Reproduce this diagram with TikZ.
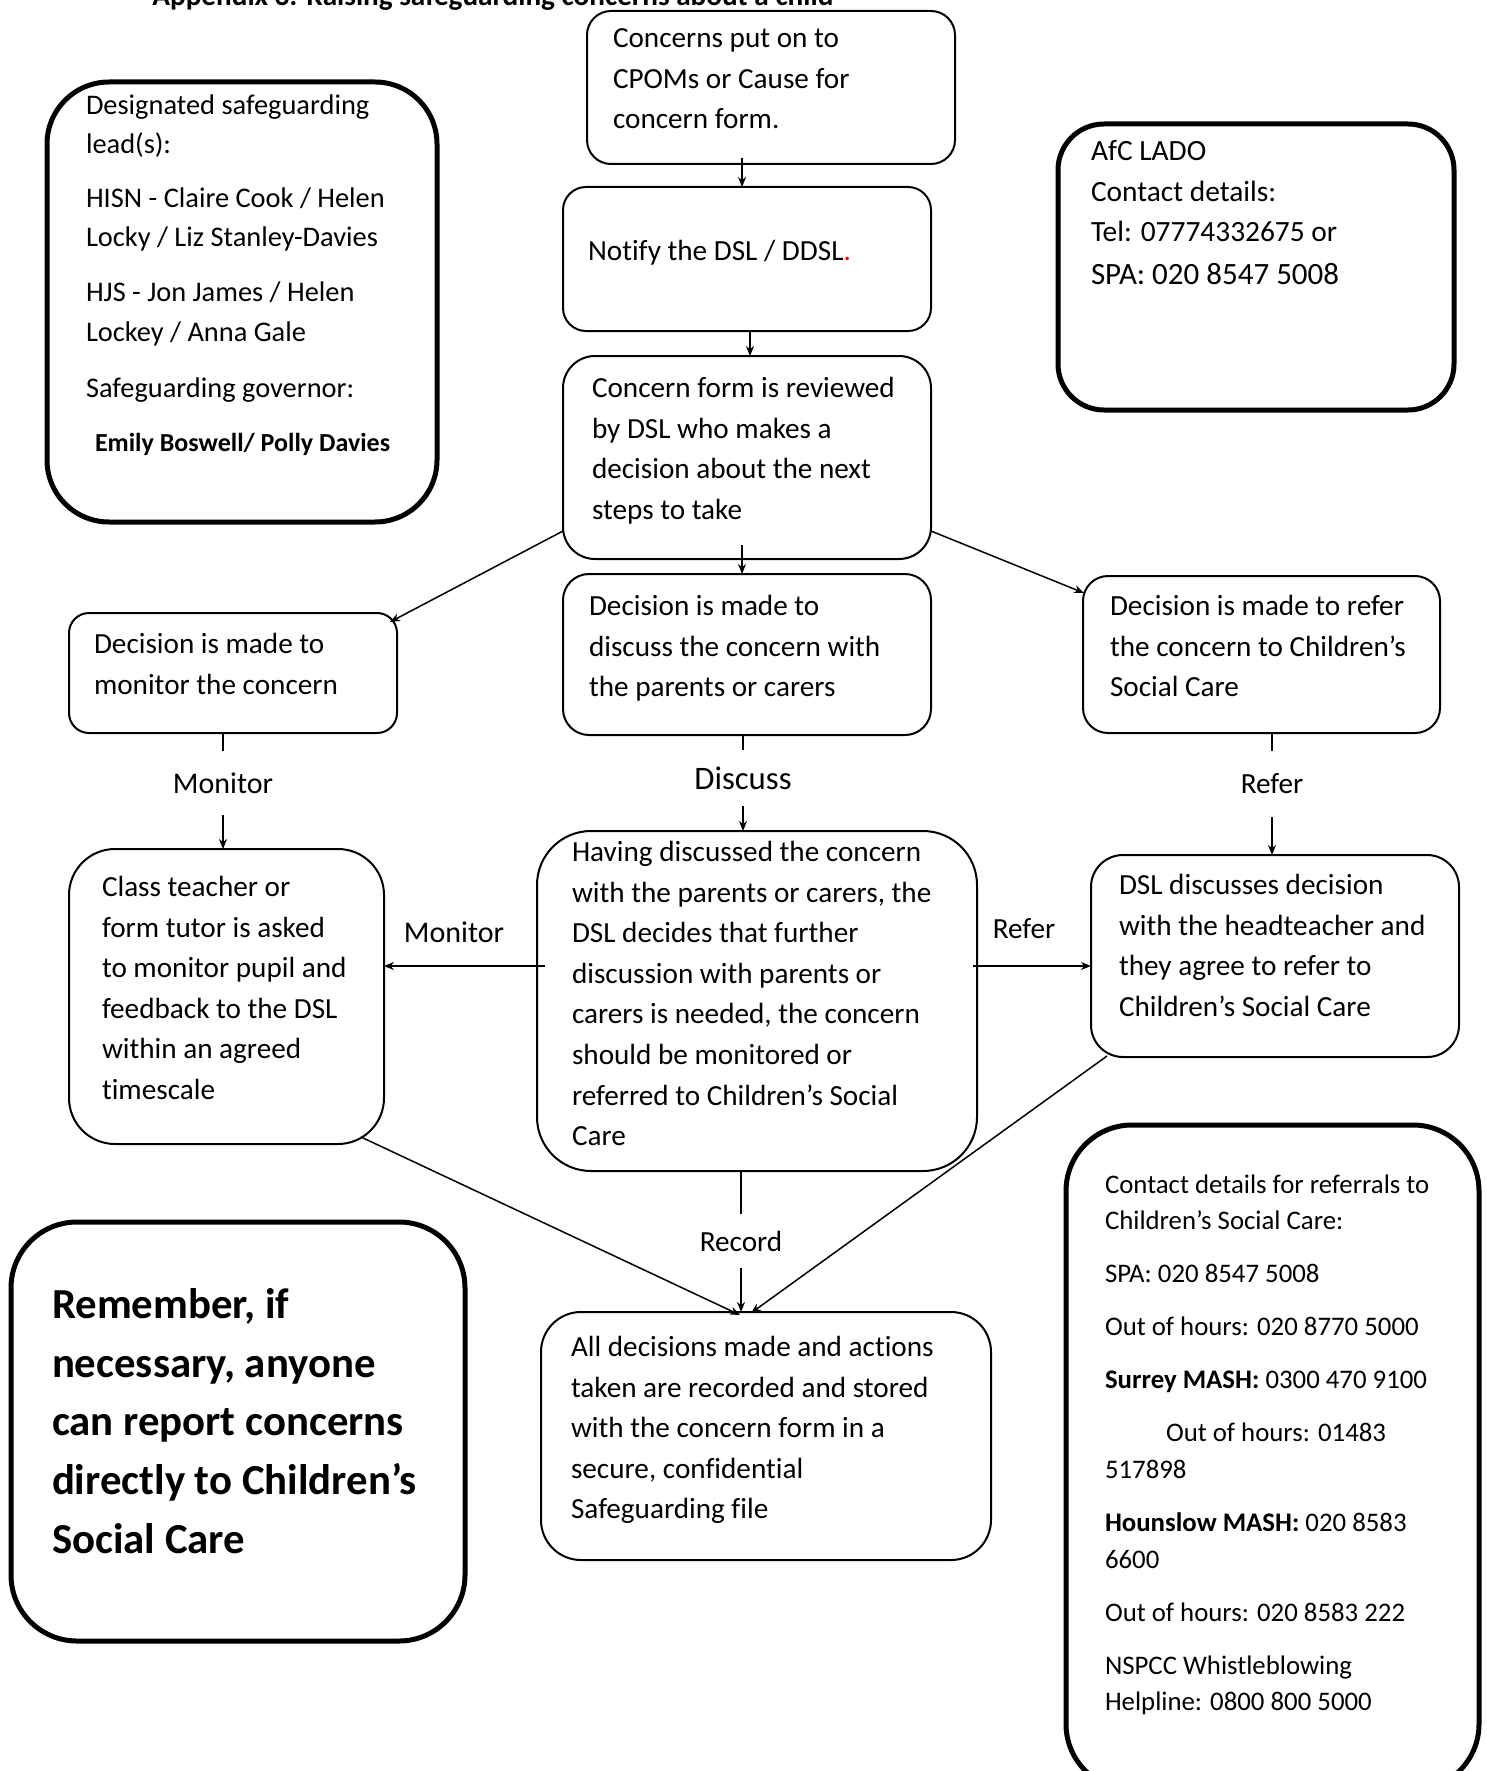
\documentclass[tikz,border=0pt]{standalone}
\usepackage{fontspec}
\setmainfont{Carlito}[Ligatures=NoCommon]
\usetikzlibrary{calc,arrows.meta}
\newdimen\pxu \pxu=0.5pt
% #1 width px, #2 height px, #3 first baseline offset px, #4 left pad px, #5 text
\newcommand{\bxt}[5]{\parbox[c][#2\pxu][t]{#1\pxu}{\leftskip=#4\pxu\relax\rightskip=0pt plus 1fil\relax\parindent=0pt\relax\vspace*{\dimexpr #3\pxu+3.5\pxu-0.7\baselineskip\relax}\strut #5\par}}
\tikzset{
  box/.style={draw, line width=1pt, rounded corners=#1, inner sep=0pt, outer sep=0pt, anchor=north west,
    font=\fontsize{14.6pt}{20.3pt}\selectfont},
  tbox/.style={box=#1, line width=2.5pt},
  conn/.style={line width=0.75pt},
  arr/.style={line width=0.75pt, -{Stealth[length=5pt,width=4pt]}},
  lab/.style={inner sep=0pt, minimum height=#1, font=\fontsize{14.6pt}{17pt}\selectfont},
}
\begin{document}
\begin{tikzpicture}[x=0.5pt,y=-0.5pt]
\fill[white] (0,0) rectangle (1487,1771);
\useasboundingbox (0,0) rectangle (1487,1771);

\node[anchor=base west, inner sep=0pt, font=\bfseries\fontsize{14.6pt}{17pt}\selectfont] (title) at (152,6)
  {Appendix 3: Raising safeguarding concerns about a child};

% flow boxes
\node[box=12pt] (A) at (587,11) {\bxt{368}{153}{33}{26}{Concerns put on to\\CPOMs or Cause for\\concern form.}};
\node[box=11.5pt] (B) at (563,187) {\bxt{368}{144}{70.5}{25}{Notify the DSL / DDSL{\color{red}.}}};
\node[box=16pt] (C) at (563,356) {\bxt{368}{203}{38}{29}{Concern form is reviewed\\by DSL who makes a\\decision about the next\\steps to take}};
\node[box=13pt] (E) at (563,574) {\bxt{368}{161}{38}{26}{Decision is made to\\discuss the concern with\\the parents or carers}};
\node[box=10pt] (D) at (69,613) {\bxt{328}{120}{37.4}{25}{Decision is made to\\monitor the concern}};
\node[box=12.5pt] (F) at (1083,576) {\bxt{357}{157}{36}{27}{Decision is made to refer\\the concern to Children’s\\Social Care}};
\node[box=23pt] (G) at (69,849) {\bxt{315}{295}{44}{33}{Class teacher or\\form tutor is asked\\to monitor pupil and\\feedback to the DSL\\within an agreed\\timescale}};
\node[box=27pt] (H) at (537,831) {\bxt{440}{340}{27}{35}{Having discussed the concern\\with the parents or carers, the\\DSL decides that further\\discussion with parents or\\carers is needed, the concern\\should be monitored or\\referred to Children’s Social\\Care}};
\node[box=16pt] (I) at (1091,855) {\bxt{368}{202}{36}{28}{DSL discusses decision\\with the headteacher and\\they agree to refer to\\Children’s Social Care}};
\node[box=20pt] (J) at (541,1312) {\bxt{450}{248}{41}{30}{All decisions made and actions\\taken are recorded and stored\\with the concern form in a\\secure, confidential\\Safeguarding file}};

% information boxes
\node[tbox=31pt, font=\fontsize{14.2pt}{19.75pt}\selectfont] (K) at (47,82) {\bxt{390}{440}{28.5}{39}{Designated safeguarding\\lead(s):\par\vspace{7.25pt}
HISN - Claire Cook / Helen\\Locky / Liz Stanley-Davies\par\vspace{7.6pt}
HJS - Jon James / Helen\\Lockey / Anna Gale\par\vspace{8.5pt}
Safeguarding governor:\par\vspace{7pt}
{\bfseries\fontsize{13pt}{19.75pt}\selectfont\hspace*{9\pxu}Emily Boswell/ Polly Davies\par}}};
\node[tbox=23pt, font=\fontsize{14.7pt}{20.3pt}\selectfont] (L) at (1058,124) {\bxt{396}{286}{33}{33}{AfC LADO\\Contact details:\\Tel: 07774332675 or\par
{\fontsize{15.5pt}{21.45pt}\selectfont SPA: 020 8547 5008\par}}};
\node[tbox=33pt, font=\bfseries\fontsize{21.4pt}{29.35pt}\selectfont] (M) at (11,1222) {\bxt{454}{419}{93}{41}{Remember, if\\necessary, anyone\\can report concerns\\directly to Children’s\\Social Care}};
\node[tbox=33pt, font=\fontsize{13.4pt}{18.35pt}\selectfont] (N) at (1066,1125) {\bxt{413}{665}{64.5}{39}{\parskip=8.15pt Contact details for referrals to\\Children’s Social Care:\par
SPA: 020 8547 5008\par
Out of hours: 020 8770 5000\par
\textbf{Surrey MASH:} 0300 470 9100\par
\hspace*{61\pxu}Out of hours: 01483\\517898\par
\textbf{Hounslow MASH:} 020 8583\\6600\par
Out of hours: 020 8583 222\par
NSPCC Whistleblowing\\Helpline: 0800 800 5000}};

% labels
\node[lab=32pt, font=\fontsize{15pt}{17pt}\selectfont] (m1) at (223,783) {Monitor};
\node[lab=28pt, font=\fontsize{16.4pt}{19pt}\selectfont] (e1) at (743,778) {Discuss};
\node[lab=33pt] (r1) at (1272,784) {Refer};
\node[lab=27pt] (rec) at (741,1241) {Record};
\node[lab=20pt, font=\fontsize{15pt}{17pt}\selectfont] (m2) at (454,932) {Monitor};
\node[lab=20pt] (r2) at (1024,929) {Refer};

% connectors
\draw[arr] ($(A.south)+(-29,-6)$) -- ($(B.north)+(-5,0)$);
\draw[arr] ($(B.south)+(3,0)$) -- ($(C.north)+(3,0)$);
\draw[arr] ($(C.south)+(-5,-14)$) -- ($(E.north)+(-5,0)$);
\draw[arr] ($(C.south west)+(0,-28)$) -- ($(D.north east)+(-7,9)$);
\draw[arr] ($(C.south east)+(0,-28)$) -- ($(F.north west)+(1,17)$);

\draw[conn] (D.south -| m1) -- (m1.north);
\draw[arr] (m1.south) -- (G.north -| m1);
\draw[conn] (E.south -| e1) -- (e1.north);
\draw[arr] (e1.south) -- (H.north -| e1);
\draw[conn] (F.south -| r1) -- (r1.north);
\draw[arr] (r1.south) -- (I.north -| r1);

\coordinate (hl) at ($(H.west)+(8,-35)$);
\coordinate (hr) at ($(H.east)+(-4,-35)$);
\draw[arr] (hl) -- (G.east |- hl);
\draw[arr] (hr) -- (I.west |- hr);

\draw[conn] (H.south -| rec) -- (rec.north);
\draw[arr] (rec.south) -- (J.north -| rec);
\draw[arr] ($(G.south east)+(-23,-7)$) -- ($(J.north west)+(199,3)$);
\draw[arr] ($(I.south west)+(16,-1)$) -- ($(J.north west)+(210,1)$);
\end{tikzpicture}
\end{document}
